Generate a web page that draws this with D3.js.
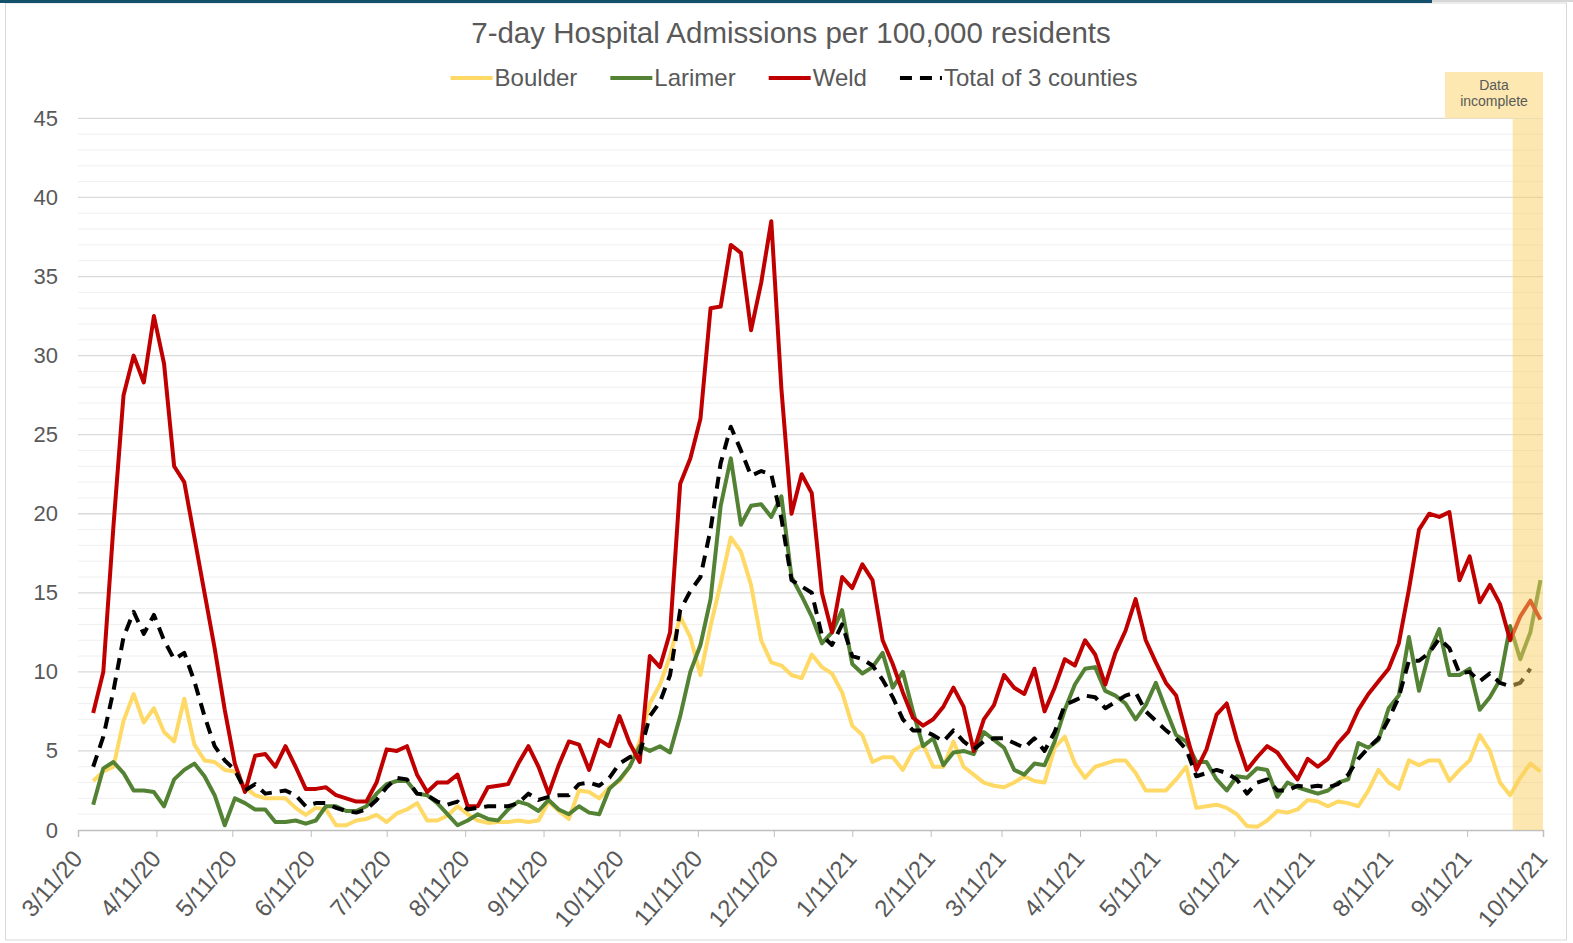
<!DOCTYPE html>
<html>
<head>
<meta charset="utf-8">
<script src="https://cdn.jsdelivr.net/npm/d3@7"></script>
<style>
  body { margin: 0; background: #fff; }
  text { font-family: "Liberation Sans", Arial, sans-serif; fill: #595959; }
</style>
</head>
<body>
<div id="chart"></div>
<script>
// values read every 4 days, starting 3/17/20
const startDate = new Date(2020, 2, 17);
const stepDays = 4;

const seriesNames = ["Boulder", "Larimer", "Weld", "Total of 3 counties"];
const seriesColors = ["#ffd966", "#548235", "#c00000", "#000000"];

const boulder = [
  3.1, 3.7, 4.0, 6.9, 8.6, 6.8, 7.7, 6.2, 5.6, 8.3,
  5.4, 4.4, 4.3, 3.8, 3.7, 2.7, 2.2, 2.0, 2.0, 2.0,
  1.4, 0.95, 1.4, 1.3, 0.3, 0.3, 0.6, 0.7, 0.95, 0.5,
  1.05, 1.3, 1.7, 0.6, 0.6, 0.9, 1.5, 1.0, 0.6, 0.45,
  0.5, 0.5, 0.6, 0.5, 0.6, 1.8, 1.2, 0.7, 2.5, 2.4,
  2.0, 2.7, 3.1, 4.0, 5.6, 8.0, 9.2, 11.0, 13.5, 12.2,
  9.8, 12.9, 15.6, 18.5, 17.6, 15.5, 12.0, 10.6, 10.4, 9.8,
  9.6, 11.1, 10.3, 9.9, 8.7, 6.6, 6.0, 4.3, 4.6, 4.6,
  3.8, 5.0, 5.4, 4.0, 4.0, 5.6, 4.0, 3.5, 3.0, 2.8,
  2.7, 3.0, 3.4, 3.1, 3.0, 5.2, 5.9, 4.2, 3.3, 4.0,
  4.2, 4.4, 4.4, 3.6, 2.5, 2.5, 2.5, 3.2, 4.0, 1.4,
  1.5, 1.6, 1.4, 1.0, 0.25, 0.2, 0.6, 1.2, 1.1, 1.3,
  1.9, 1.8, 1.5, 1.8, 1.7, 1.5, 2.5, 3.8, 3.0, 2.6,
  4.4, 4.1, 4.4, 4.4, 3.1, 3.8, 4.4, 6.0, 5.0, 3.0,
  2.2, 3.3, 4.2, 3.7
];

const larimer = [
  1.6, 3.9, 4.3, 3.6, 2.5, 2.5, 2.4, 1.5, 3.2, 3.8,
  4.2, 3.4, 2.2, 0.3, 2.0, 1.7, 1.3, 1.3, 0.5, 0.5,
  0.6, 0.4, 0.6, 1.5, 1.5, 1.2, 1.2, 1.5, 2.3, 2.9,
  3.1, 3.1, 2.3, 2.2, 1.7, 1.0, 0.3, 0.6, 1.0, 0.7,
  0.6, 1.3, 1.8, 1.6, 1.2, 1.9, 1.3, 1.0, 1.5, 1.1,
  1.0, 2.6, 3.2, 4.0, 5.3, 5.0, 5.3, 4.9, 7.2, 10.0,
  11.7, 14.6, 20.5, 23.5, 19.3, 20.5, 20.6, 19.8, 21.1, 16.0,
  14.8, 13.5, 11.8, 12.5, 13.9, 10.5, 9.9, 10.3, 11.2, 9.0,
  10.0, 7.5, 5.3, 5.8, 4.1, 4.9, 5.0, 4.8, 6.2, 5.7,
  5.2, 3.8, 3.5, 4.2, 4.1, 5.6, 7.6, 9.2, 10.2, 10.3,
  8.8, 8.5, 8.0, 7.0, 7.9, 9.3, 7.6, 6.0, 5.6, 4.3,
  4.3, 3.2, 2.5, 3.4, 3.3, 3.9, 3.8, 2.1, 3.0, 2.7,
  2.5, 2.3, 2.5, 3.0, 3.2, 5.5, 5.2, 5.7, 7.7, 8.5,
  12.2, 8.8, 11.2, 12.7, 9.8, 9.8, 10.2, 7.6, 8.4, 9.5,
  12.9, 10.8, 12.5, 15.8
];

const weld = [
  7.4, 10.0, 19.2, 27.5, 30.0, 28.3, 32.5, 29.5, 23.0, 22.0,
  18.5, 15.0, 11.5, 7.6, 4.2, 2.4, 4.7, 4.8, 4.0, 5.3,
  4.0, 2.6, 2.6, 2.7, 2.2, 2.0, 1.8, 1.8, 3.0, 5.1,
  5.0, 5.3, 3.5, 2.4, 3.0, 3.0, 3.5, 1.5, 1.5, 2.7,
  2.8, 2.9, 4.2, 5.3, 4.0, 2.3, 4.1, 5.6, 5.4, 3.8,
  5.7, 5.3, 7.2, 5.5, 4.3, 11.0, 10.3, 12.5, 21.9, 23.5,
  26.0, 33.0, 33.1, 37.0, 36.5, 31.6, 34.6, 38.5, 27.9, 20.0,
  22.5, 21.3, 15.0, 12.5, 16.0, 15.3, 16.8, 15.8, 12.0, 10.5,
  8.7, 7.1, 6.6, 7.0, 7.8, 9.0, 7.8, 5.0, 7.0, 7.9,
  9.8, 9.0, 8.6, 10.2, 7.5, 9.0, 10.8, 10.4, 12.0, 11.1,
  9.2, 11.2, 12.6, 14.6, 12.0, 10.6, 9.3, 8.5, 6.1, 3.8,
  5.1, 7.3, 8.0, 5.7, 3.8, 4.6, 5.3, 4.9, 4.0, 3.2,
  4.5, 4.0, 4.5, 5.5, 6.2, 7.6, 8.6, 9.4, 10.2, 11.8,
  15.2, 19.0, 20.0, 19.8, 20.1, 15.8, 17.3, 14.4, 15.5, 14.3,
  12.0, 13.5, 14.5, 13.3
];

const total3 = [
  4.0, 5.9, 8.8, 12.2, 13.8, 12.4, 13.6, 12.0, 10.8, 11.2,
  9.4, 7.2, 5.3, 4.4, 3.8, 2.5, 2.9, 2.3, 2.4, 2.5,
  2.2, 1.5, 1.7, 1.7, 1.4, 1.2, 1.1, 1.3, 1.9, 2.7,
  3.3, 3.2, 2.3, 2.2, 1.8, 1.6, 1.8, 1.3, 1.4, 1.5,
  1.5, 1.5, 1.7, 2.3, 1.9, 2.1, 2.2, 2.2, 2.9, 3.0,
  2.8, 3.3, 4.2, 4.6, 4.8, 7.2, 8.1, 9.8, 13.9, 15.1,
  16.0, 19.0, 23.2, 25.5, 24.0, 22.4, 22.7, 22.5, 19.7, 15.8,
  15.4, 15.0, 12.3, 11.7, 13.0, 11.0, 10.8, 10.4, 9.5, 8.4,
  7.0, 6.3, 6.3, 6.0, 5.6, 6.3, 5.6, 5.1, 5.6, 5.8,
  5.8, 5.5, 5.2, 5.8, 5.0, 6.2, 7.9, 8.2, 8.5, 8.4,
  7.7, 8.1, 8.5, 8.7, 7.5, 6.9, 6.3, 5.8, 5.1, 3.4,
  3.6, 3.8, 3.6, 3.2, 2.3, 3.0, 3.2, 2.5, 2.5, 2.8,
  2.7, 2.8, 2.7, 2.9, 3.5, 4.5, 5.2, 5.8, 7.0, 8.4,
  10.7, 10.7, 11.2, 12.1, 11.5, 9.9, 10.0, 9.4, 9.9, 9.3,
  9.1, 9.3, 10.2
];

const xTickLabels = ["3/11/20", "4/11/20", "5/11/20", "6/11/20", "7/11/20", "8/11/20",
  "9/11/20", "10/11/20", "11/11/20", "12/11/20", "1/11/21", "2/11/21", "3/11/21",
  "4/11/21", "5/11/21", "6/11/21", "7/11/21", "8/11/21", "9/11/21", "10/11/21"];
const yTicks = [0, 5, 10, 15, 20, 25, 30, 35, 40, 45];
const incompleteFrom = "9/29/21";

const width = 1573;
const height = 943;
const plotLeft = 78, plotRight = 1543, plotTop = 118.4, plotBottom = 830;

const parse = d3.timeParse("%m/%d/%y");
const tickDates = xTickLabels.map(parse);

const svg = d3.select("#chart").append("svg")
    .attr("width", width)
    .attr("height", height);

svg.append("rect").attr("width", width).attr("height", height).attr("fill", "#fff");
// frame
svg.append("rect")
    .attr("x", 5.5).attr("y", 3).attr("width", 1561).attr("height", 937)
    .attr("fill", "none").attr("stroke", "#d9d9d9");
svg.append("rect").attr("x", 0).attr("y", 0).attr("width", 1432).attr("height", 3).attr("fill", "#13506b");
svg.append("rect").attr("x", 1432).attr("y", 0).attr("width", width - 1432).attr("height", 2).attr("fill", "#d6d6d6");

const xScale = d3.scaleTime()
    .domain([tickDates[0], tickDates[tickDates.length - 1]])
    .range([plotLeft, plotRight]);

const yScale = d3.scaleLinear()
    .domain([0, 45])
    .range([plotBottom, plotTop]);

// gridlines
svg.append("g").selectAll("line")
    .data(d3.range(1, 45).filter(v => v % 5 !== 0))
    .join("line")
    .attr("x1", plotLeft).attr("x2", plotRight)
    .attr("y1", d => yScale(d)).attr("y2", d => yScale(d))
    .attr("stroke", "#efefef").attr("stroke-width", 1);

svg.append("g").selectAll("line")
    .data(yTicks.slice(1))
    .join("line")
    .attr("x1", plotLeft).attr("x2", plotRight)
    .attr("y1", d => yScale(d)).attr("y2", d => yScale(d))
    .attr("stroke", "#d9d9d9").attr("stroke-width", 1.3);

// y axis labels
const yAxis = svg.append("g")
    .attr("transform", `translate(${plotLeft},0)`)
    .call(d3.axisLeft(yScale).tickValues(yTicks).tickSize(0).tickPadding(20));
yAxis.select(".domain").remove();
yAxis.selectAll("text")
    .style("font-size", "22px")
    .style("font-family", "'Liberation Sans', Arial, sans-serif")
    .attr("fill", "#595959");

// x axis
const xAxis = svg.append("g")
    .attr("transform", `translate(0,${plotBottom})`)
    .call(d3.axisBottom(xScale).tickValues(tickDates).tickSize(7)
        .tickFormat((d, i) => xTickLabels[i]));
xAxis.select(".domain").attr("stroke", "#bfbfbf").attr("stroke-width", 1.5);
xAxis.selectAll(".tick line").attr("stroke", "#bfbfbf");
xAxis.selectAll("text")
    .attr("x", 0).attr("y", 0).attr("dy", "0.35em")
    .attr("transform", "translate(-1,24) rotate(-49)")
    .style("text-anchor", "end")
    .style("font-size", "24px")
    .style("font-family", "'Liberation Sans', Arial, sans-serif")
    .attr("fill", "#595959");

// series lines
const seriesValues = [boulder, larimer, weld, total3];
const line = d3.line()
    .x((d, i) => xScale(d3.timeDay.offset(startDate, i * stepDays)))
    .y(d => yScale(d));

seriesValues.forEach((vals, k) => {
    svg.append("path")
        .datum(vals)
        .attr("d", line)
        .attr("fill", "none")
        .attr("stroke", seriesColors[k])
        .attr("stroke-width", 4)
        .attr("stroke-linejoin", "round")
        .attr("stroke-dasharray", k === 3 ? "12,8" : null);
});

// data incomplete band (drawn over the lines, see-through)
const shadeX = xScale(parse(incompleteFrom));
svg.append("rect")
    .attr("x", shadeX).attr("y", plotTop)
    .attr("width", plotRight - shadeX).attr("height", plotBottom - plotTop)
    .attr("fill", "#f8cf5f").attr("opacity", 0.5);
svg.append("rect")
    .attr("x", 1445).attr("y", 72)
    .attr("width", plotRight - 1445).attr("height", plotTop - 72)
    .attr("fill", "#fce8b0");
svg.append("text")
    .attr("x", (1445 + plotRight) / 2).attr("y", 90)
    .attr("text-anchor", "middle")
    .style("font-size", "14px").attr("fill", "#404040")
    .text("Data");
svg.append("text")
    .attr("x", (1445 + plotRight) / 2).attr("y", 106)
    .attr("text-anchor", "middle")
    .style("font-size", "14px").attr("fill", "#404040")
    .text("incomplete");

// title
svg.append("text")
    .attr("x", 791).attr("y", 43)
    .attr("text-anchor", "middle")
    .style("font-size", "29.5px")
    .text("7-day Hospital Admissions per 100,000 residents");

// legend
const legend = svg.append("g");
let lx = 0;
seriesNames.forEach((name, k) => {
    const g = legend.append("g").attr("transform", `translate(${lx},0)`);
    g.append("line")
        .attr("x1", 0).attr("x2", 42).attr("y1", 0).attr("y2", 0)
        .attr("stroke", seriesColors[k]).attr("stroke-width", 4)
        .attr("stroke-dasharray", k === 3 ? "12,8" : null);
    const t = g.append("text")
        .attr("x", 44).attr("y", 0).attr("dy", "0.35em")
        .style("font-size", "24px")
        .text(name);
    lx += 44 + t.node().getComputedTextLength() + 33;
});
const legendWidth = lx - 33;
legend.attr("transform", `translate(${794 - legendWidth / 2},78)`);
</script>
</body>
</html>
